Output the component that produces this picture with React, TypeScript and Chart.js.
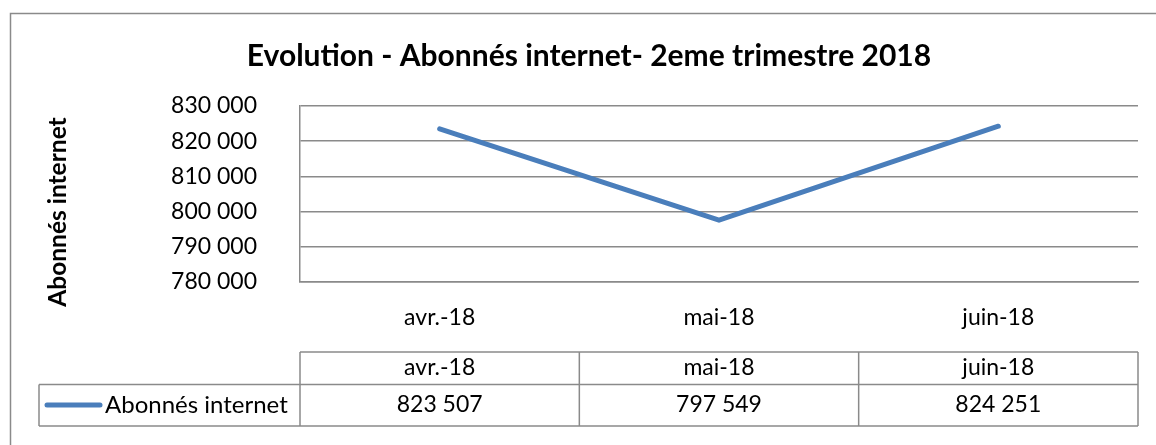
import React, { useEffect, useRef } from "react";
import { Chart, registerables } from "chart.js";

Chart.register(...registerables);

const categories = ["avr.-18", "mai-18", "juin-18"];
const seriesName = "Abonnés internet";
const subscribers = [823507, 797549, 824251];
const yMin = 780000;
const yMax = 830000;
const yStep = 10000;
const titleText = "Evolution - Abonnés internet- 2eme trimestre 2018";
const yAxisTitle = "Abonnés internet";

const LINE_COLOR = "#4a7ebb";
const GRID_COLOR = "#8a8a8a";
const FONT = "Lato";

const fmt = (n: number) =>
  Math.round(n).toString().replace(/\B(?=(\d{3})+(?!\d))/g, " ");

const decorPlugin = {
  id: "decor",
  afterDraw(chart: any) {
    const ctx = chart.ctx as CanvasRenderingContext2D;
    const xs = chart.scales.x;
    const area = chart.chartArea;
    ctx.save();
    // outer frame
    ctx.strokeStyle = GRID_COLOR;
    ctx.lineWidth = 1.5;
    ctx.strokeRect(10.5, 13.5, 1200, 500);

    // title
    ctx.fillStyle = "#000";
    ctx.font = `bold 30px ${FONT}`;
    ctx.textAlign = "center";
    ctx.textBaseline = "middle";
    ctx.fillText(titleText, 589, 56);

    // y-axis title
    ctx.save();
    ctx.translate(58, 212);
    ctx.rotate(-Math.PI / 2);
    ctx.font = `bold 24.5px ${FONT}`;
    ctx.fillText(yAxisTitle, 0, 0);
    ctx.restore();

    // data table
    const n = categories.length;
    const colW = (area.right - area.left) / n;
    const top = 352;
    const mid = 384.5;
    const bottom = 426;
    const legendLeft = 39;
    ctx.strokeStyle = GRID_COLOR;
    ctx.lineWidth = 1.5;
    ctx.beginPath();
    ctx.moveTo(area.left, top);
    ctx.lineTo(area.right, top);
    ctx.moveTo(legendLeft, mid);
    ctx.lineTo(area.right, mid);
    ctx.moveTo(legendLeft, bottom);
    ctx.lineTo(area.right, bottom);
    ctx.moveTo(legendLeft, mid);
    ctx.lineTo(legendLeft, bottom);
    for (let i = 0; i <= n; i++) {
      const x = area.left + i * colW;
      ctx.moveTo(x, top);
      ctx.lineTo(x, bottom);
    }
    ctx.stroke();

    ctx.font = `23px ${FONT}`;
    ctx.fillStyle = "#000";
    ctx.textAlign = "center";
    for (let i = 0; i < n; i++) {
      const cx = xs.getPixelForValue(i);
      ctx.fillText(categories[i], cx, 368);
      ctx.fillText(fmt(subscribers[i]), cx, 405);
    }
    // legend key
    ctx.strokeStyle = LINE_COLOR;
    ctx.lineWidth = 5;
    ctx.lineCap = "round";
    ctx.beginPath();
    ctx.moveTo(47, 405);
    ctx.lineTo(100, 405);
    ctx.stroke();
    ctx.textAlign = "left";
    ctx.font = `24px ${FONT}`;
    ctx.fillText(seriesName, 105, 405);
    ctx.restore();
  },
};

export default function App() {
  const ref = useRef<HTMLCanvasElement>(null);
  useEffect(() => {
    if (!ref.current) return;
    const chart = new Chart(ref.current, {
      type: "line",
      data: {
        labels: categories,
        datasets: [
          {
            label: seriesName,
            data: subscribers,
            borderColor: LINE_COLOR,
            borderWidth: 5,
            pointRadius: 0,
            tension: 0,
            fill: false,
            borderCapStyle: "round",
            borderJoinStyle: "round",
          },
        ],
      },
      options: {
        responsive: false,
        animation: false,
        layout: { padding: { top: 106, right: 18, left: 0, bottom: 0 } },
        plugins: {
          legend: { display: false },
          title: { display: false },
          tooltip: { enabled: false },
        },
        scales: {
          x: {
            type: "category",
            offset: true,
            grid: { display: false, drawTicks: false },
            border: { display: true, color: GRID_COLOR, width: 1.5 },
            ticks: {
              color: "#000",
              font: { family: FONT, size: 23 },
              padding: 22,
              maxRotation: 0,
            },
            afterFit: (s: any) => {
              s.height = 445 - 282;
            },
          },
          y: {
            min: yMin,
            max: yMax,
            grid: { color: GRID_COLOR, lineWidth: 1.5, drawTicks: false },
            border: { display: true, color: GRID_COLOR, width: 1.5 },
            ticks: {
              stepSize: yStep,
              color: "#000",
              font: { family: FONT, size: 23 },
              padding: 43,
              callback: (v: any) => fmt(Number(v)),
            },
            afterFit: (s: any) => {
              s.width = 300;
            },
          },
        },
      },
      plugins: [decorPlugin],
    });
    return () => chart.destroy();
  }, []);
  return (
    <div style={{ position: "fixed", left: 0, top: 0, width: 1156, height: 445, background: "#fff" }}>
      <canvas ref={ref} width={1156} height={445} style={{ display: "block" }} />
    </div>
  );
}
